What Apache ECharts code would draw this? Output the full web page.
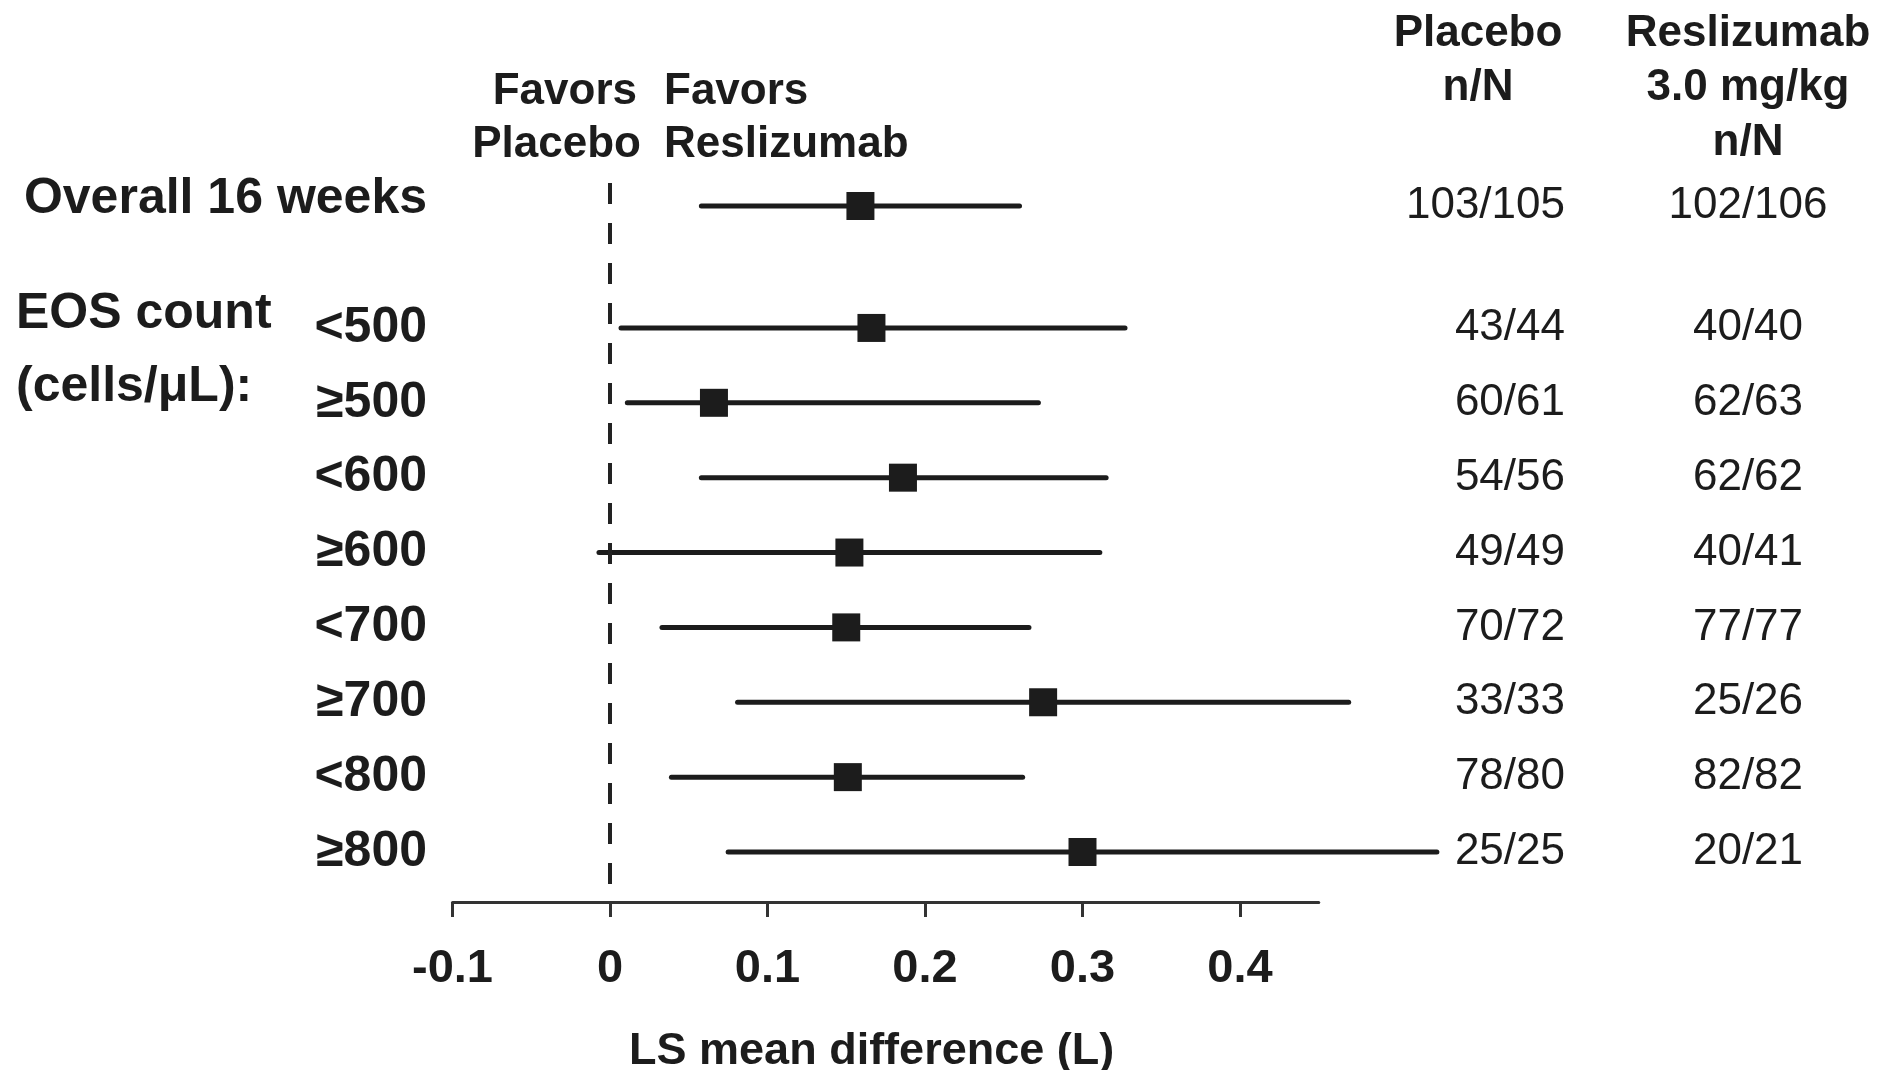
<!DOCTYPE html>
<html>
<head>
<meta charset="utf-8">
<script src="https://cdn.jsdelivr.net/npm/echarts@6/dist/echarts.min.js"></script>
<style>
html,body{margin:0;padding:0;background:#fff;}
#chart{width:1892px;height:1070px;}
</style>
</head>
<body>
<div id="chart"></div>
<script>
// ---- data ----
const rowLabels = ['Overall 16 weeks', '<500', '≥500', '<600', '≥600', '<700', '≥700', '<800', '≥800'];
const estimate  = [0.159, 0.166, 0.066, 0.186, 0.152, 0.150, 0.275, 0.151, 0.300];
const lowerCI   = [0.058, 0.007, 0.011, 0.058, -0.007, 0.033, 0.081, 0.039, 0.075];
const upperCI   = [0.260, 0.327, 0.272, 0.315, 0.311, 0.266, 0.469, 0.262, 0.525];
const placeboN  = ['103/105', '43/44', '60/61', '54/56', '49/49', '70/72', '33/33', '78/80', '25/25'];
const reslizN   = ['102/106', '40/40', '62/63', '62/62', '40/41', '77/77', '25/26', '82/82', '20/21'];
const xTicks    = [-0.1, 0, 0.1, 0.2, 0.3, 0.4];

// ---- layout constants ----
const GAP_AFTER_OVERALL = 0.629;   // extra row space between overall row and subgroup rows
const INK = '#1c1c1c';
const FONT = '"Liberation Sans", Arial, sans-serif';
const LABEL_RIGHT = 427;
const PLACEBO_RIGHT = 1565;
const RESLIZ_CENTER = 1748;

const rowPos = rowLabels.map((_, i) => (i === 0 ? 0 : i + GAP_AFTER_OVERALL));
const seriesData = rowLabels.map((_, i) => [lowerCI[i], upperCI[i], estimate[i], rowPos[i]]);

const chart = echarts.init(document.getElementById('chart'), null, {renderer: 'canvas'});

function txt(x, y, text, align, weight, size) {
  return {
    type: 'text', x: x, y: y, silent: true,
    style: {
      text: text, textAlign: align, textVerticalAlign: 'middle',
      font: weight + ' ' + size + 'px ' + FONT, fill: INK
    }
  };
}

const option = {
  backgroundColor: '#fff',
  animation: false,
  grid: {left: 452.5, right: 573.25, top: 183, bottom: 168, containLabel: false, outerBoundsMode: 'none'},
  xAxis: {
    type: 'value', min: -0.1, max: 0.45,
    splitLine: {show: false},
    axisLine: {show: true, onZero: false, lineStyle: {color: '#333', width: 3}},
    axisTick: {show: true, length: 15, lineStyle: {color: '#333', width: 3}, customValues: xTicks},
    axisLabel: {
      customValues: xTicks, margin: 44, color: INK,
      fontFamily: FONT, fontWeight: 'bold', fontSize: 47,
      formatter: v => String(v)
    },
    name: 'LS mean difference (L)', nameLocation: 'middle', nameGap: 127,
    nameTextStyle: {fontFamily: FONT, fontWeight: 'bold', fontSize: 45, color: INK, padding: [0, 28, 0, 0]}
  },
  yAxis: {
    type: 'value', inverse: true, min: -0.307, max: 9.297, show: false
  },
  graphic: [
    txt(637, 92, 'Favors', 'right', 'bold', 44),
    txt(641, 145, 'Placebo', 'right', 'bold', 44),
    txt(664, 92, 'Favors', 'left', 'bold', 44),
    txt(664, 145, 'Reslizumab', 'left', 'bold', 44),
    txt(1478, 34, 'Placebo', 'center', 'bold', 44),
    txt(1478, 88, 'n/N', 'center', 'bold', 44),
    txt(RESLIZ_CENTER, 34, 'Reslizumab', 'center', 'bold', 44),
    txt(RESLIZ_CENTER, 88, '3.0 mg/kg', 'center', 'bold', 44),
    txt(RESLIZ_CENTER, 143, 'n/N', 'center', 'bold', 44),
    txt(16, 314, 'EOS count', 'left', 'bold', 50),
    txt(16, 387, '(cells/μL):', 'left', 'bold', 50)
  ],
  series: [
    {
      type: 'line', data: [], silent: true,
      markLine: {
        silent: true, symbol: 'none', animation: false,
        label: {show: false},
        lineStyle: {type: [21, 19], width: 4, color: '#222'},
        data: [{xAxis: 0}]
      }
    },
    {
      type: 'custom',
      data: seriesData,
      encode: {x: [0, 1, 2], y: 3},
      clip: false,
      renderItem: function (params, api) {
        const i = params.dataIndex;
        const yv = api.value(3);
        const lo = api.coord([api.value(0), yv]);
        const hi = api.coord([api.value(1), yv]);
        const mid = api.coord([api.value(2), yv]);
        const s = 28;
        const yLabel = i === 0 ? mid[1] - 7 : mid[1];
        return {
          type: 'group',
          children: [
            {type: 'line', shape: {x1: lo[0], y1: lo[1], x2: hi[0], y2: hi[1]},
             style: {stroke: INK, lineWidth: 5, lineCap: 'round'}},
            {type: 'rect', shape: {x: mid[0] - s / 2, y: mid[1] - s / 2, width: s, height: s},
             style: {fill: INK}},
            txt(LABEL_RIGHT, yLabel, rowLabels[i], 'right', 'bold', 50),
            txt(PLACEBO_RIGHT, mid[1], placeboN[i], 'right', 'normal', 44),
            txt(RESLIZ_CENTER, mid[1], reslizN[i], 'center', 'normal', 44)
          ]
        };
      }
    }
  ]
};
chart.setOption(option);
</script>
</body>
</html>
